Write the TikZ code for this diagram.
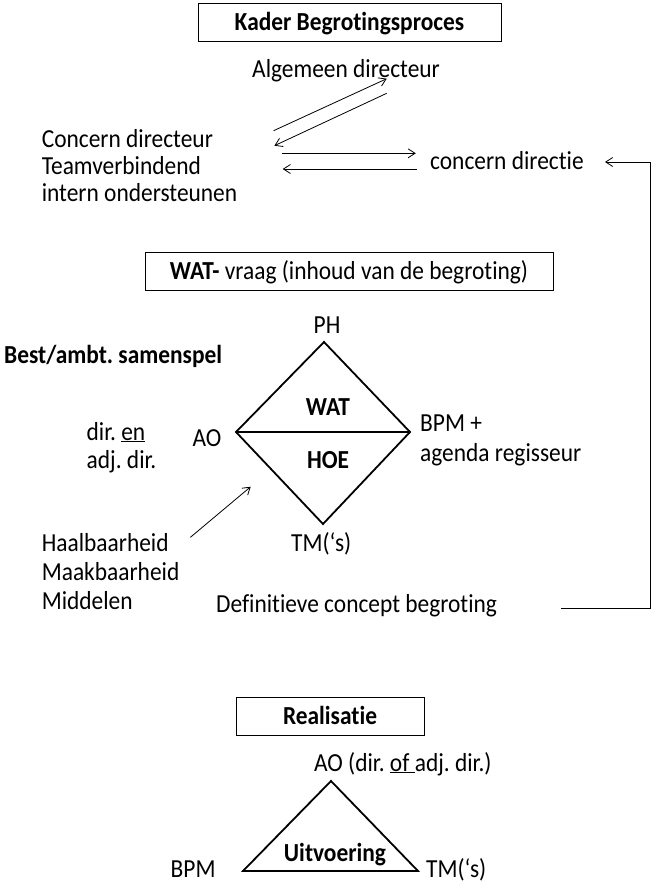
\documentclass[tikz,border=0pt]{standalone}
\usepackage{fontspec}
\setmainfont{Carlito}[FakeStretch=0.9,Ligatures=NoCommon]
\usetikzlibrary{arrows.meta}
\frenchspacing
\tikzset{
  txt/.style={inner sep=0pt, anchor=base west},
  ctxt/.style={inner sep=0pt, anchor=base},
  titlebox/.style={draw, line width=0.8pt, inner sep=0pt},
  conn/.style={line width=0.8pt, -{Straight Barb[length=7pt,width=9pt]}},
  figline/.style={line width=1.8pt, line join=miter}
}
\begin{document}
\begin{tikzpicture}[x=1pt,y=-1pt,font=\fontsize{26}{30}\selectfont]
\useasboundingbox (0,0) rectangle (652,884);
% ---- Kader ----
\node[titlebox, minimum width=303pt, minimum height=38pt] (kaderbox) at (349.5,22) {};
\node[ctxt] (kader) at (349.5,30.5) {\textbf{Kader Begrotingsproces}};
\node[txt] (ad) at (252,77) {Algemeen directeur};
\node[txt] (cd1) at (41.6,147) {Concern directeur};
\node[txt] (cd2) at (41.6,174) {Teamverbindend};
\node[txt] (cd3) at (41.6,201) {intern ondersteunen};
\node[txt] (cdie) at (430,169) {concern directie};
\coordinate (a1s) at (273.6,130.7);
\coordinate (a1e) at (386.7,78.7);
\coordinate (a2s) at (386.7,93.3);
\coordinate (a2e) at (274.4,145.7);
\coordinate (h1s) at (281.5,153.3);
\coordinate (h1e) at (415.8,153.3);
\coordinate (h2s) at (417,169);
\coordinate (h2e) at (282.7,169);
\draw[conn] (a1s) -- (a1e);
\draw[conn] (a2s) -- (a2e);
\draw[conn] (h1s) -- (h1e);
\draw[conn] (h2s) -- (h2e);
% ---- WAT ----
\node[titlebox, minimum width=408pt, minimum height=38pt] (watbox) at (349,271) {};
\node[ctxt] (wat) at (349,279) {\textbf{WAT-} vraag (inhoud van de begroting)};
\node[ctxt] (ph) at (327,333) {PH};
\node[txt] (best) at (4,363) {\textbf{Best/ambt. samenspel}};
\coordinate (dT) at (324,342);
\coordinate (dL) at (236,432);
\coordinate (dR) at (410,432);
\coordinate (dB) at (323,524);
\draw[figline] (dT) -- (dR) -- (dB) -- (dL) -- cycle;
\draw[figline] (dL) -- (dR);
\node[ctxt] (watin) at (328,415) {\textbf{WAT}};
\node[ctxt] (hoe) at (328,468) {\textbf{HOE}};
\node[txt] (ao) at (192.5,446) {AO};
\node[txt] (dir1) at (86.5,440) {dir. \underline{en}};
\node[txt] (dir2) at (86.5,468) {adj. dir.};
\node[txt] (bpm1) at (420,431) {BPM +};
\node[txt] (bpm2) at (420,461) {agenda regisseur};
\node[txt] (h1) at (41.6,551) {Haalbaarheid};
\node[txt] (h2) at (41.6,580) {Maakbaarheid};
\node[txt] (h3) at (41.6,609) {Middelen};
\coordinate (hs) at (190.4,537.3);
\coordinate (he) at (250.7,486.7);
\draw[conn] (hs) -- (he);
\node[txt] (tm1) at (291,551) {TM(‘s)};
\node[txt] (def) at (216,612) {Definitieve concept begroting};
\coordinate (ls) at (561,608.3);
\coordinate (lc1) at (650.7,608.3);
\coordinate (lc2) at (650.7,162);
\coordinate (le) at (605,162);
\draw[conn] (ls) -- (lc1) -- (lc2) -- (le);
% ---- Realisatie ----
\node[titlebox, minimum width=188pt, minimum height=38pt] (realbox) at (330,716) {};
\node[ctxt] (real) at (330,724) {\textbf{Realisatie}};
\node[txt] (ao2) at (314,771) {AO (dir. \underline{of\ }adj. dir.)};
\coordinate (tT) at (331,781);
\coordinate (tL) at (243,871);
\coordinate (tR) at (418,871);
\draw[figline] (tT) -- (tR) -- (tL) -- cycle;
\node[ctxt] (uitv) at (335,861) {\textbf{Uitvoering}};
\node[txt] (bpm3) at (170.5,877) {BPM};
\node[txt] (tm2) at (426,877) {TM(‘s)};
\end{tikzpicture}
\end{document}
